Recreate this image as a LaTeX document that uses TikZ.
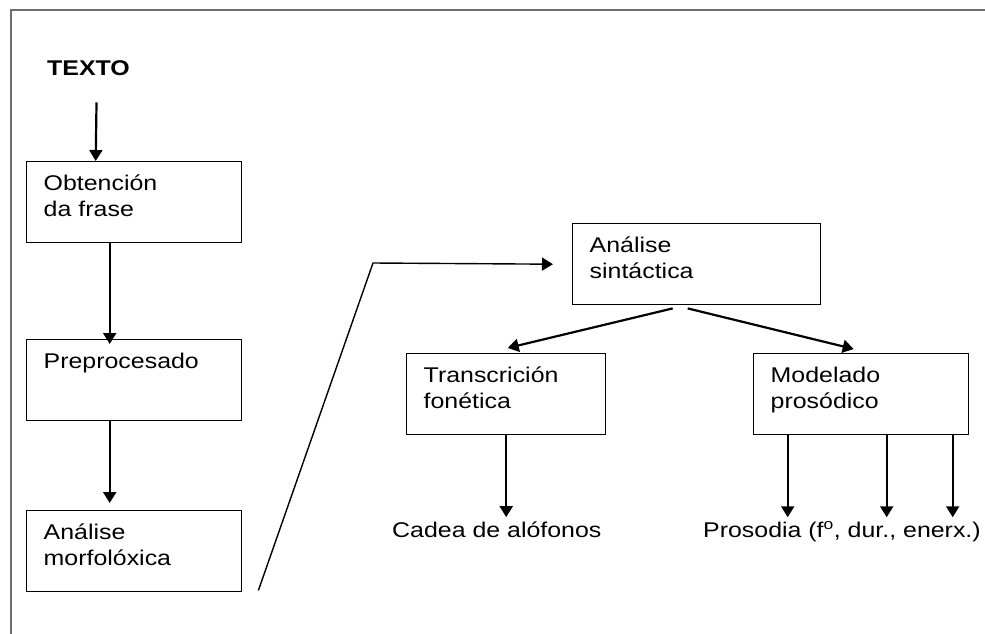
\documentclass[tikz,border=0pt]{standalone}
\usepackage{fontspec}
\setmainfont{Liberation Sans}[FakeStretch=1.17]
\usepackage{tikz}
\usetikzlibrary{arrows.meta}
\definecolor{framegray}{RGB}{110,110,110}
\tikzset{
  font={\fontsize{21.3pt}{25.5pt}\selectfont},
  stage/.style={draw, line width=1.4pt, anchor=north west, align=left,
    inner xsep=17pt, inner ysep=0pt, text height=29pt, text depth=52pt},
  flow/.style={-{Triangle[length=11pt,width=13pt]}, line width=2.2pt},
  plain/.style={inner sep=0pt, anchor=base west}}

\begin{document}
\begin{tikzpicture}[x=1pt,y=-1pt]
\useasboundingbox (0,0) rectangle (985,634);
%% The frame is only open on the right and at the bottom
\draw[framegray, line width=2.2pt] (11,634) -- (11,10) -- (985,10);
%% Left column: the text goes down through the first stages
\node[plain] (texto) at (47,76) {\bfseries TEXTO};
\node[stage, text width=181pt] (obtencion) at (26,161) {Obtención\\da frase};
\node[stage, text width=181pt] (preproc) at (26,339) {Preprocesado};
\node[stage, text width=181pt] (morfo) at (26,510) {Análise\\morfolóxica};
%% Right part
\node[stage, text width=214pt] (sintax) at (572,223) {Análise\\sintáctica};
\node[stage, text width=165pt] (fonet) at (406,353) {Transcrición\\fonética};
\node[stage, text width=181pt] (prosod) at (753,353) {Modelado\\prosódico};
\node[plain] (alofonos) at (392,537) {Cadea de alófonos};
\node[plain] (prosodia) at (703,537) {Prosodia (f\textsuperscript{o}, dur., enerx.)};
%% Connectors
\draw[flow] ([shift={(8pt,-26pt)}]texto.south) -- ([xshift=-38.5pt]obtencion.north);
\draw[flow] ([xshift=-24.5pt]obtencion.south) -- ([shift={(-24.5pt,-5pt)}]preproc.north);
\draw[flow] ([xshift=-24.5pt]preproc.south) -- ([shift={(-24.5pt,7pt)}]morfo.north);
\coordinate (knee) at (373,263);
\draw[line width=1.4pt, -{Triangle[length=11pt,width=13pt]}]
  ([shift={(16pt,2pt)}]morfo.south east) -- (knee) -- ([xshift=-19pt]sintax.west);
\draw[flow] ([shift={(-24pt,-3pt)}]sintax.south) -- ([shift={(1.5pt,5pt)}]fonet.north);
\draw[flow] ([shift={(-9pt,-3pt)}]sintax.south) -- ([shift={(-7.5pt,4pt)}]prosod.north);
%% Outputs
\coordinate (alo-in) at ([yshift=4pt]alofonos.north);
\draw[flow] (fonet.south) -- (fonet.south |- alo-in);
\coordinate (pros-in) at ([yshift=4pt]prosodia.north);
\foreach \dx in {-73.5,25.5,91.5}
  \draw[flow] ([xshift=\dx pt]prosod.south) coordinate (p) -- (p |- pros-in);
\end{tikzpicture}
\end{document}
